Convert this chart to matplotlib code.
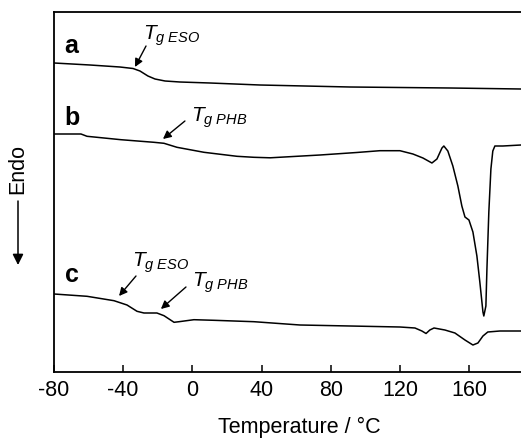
import matplotlib
matplotlib.use("Agg")
import matplotlib.pyplot as plt

plt.rcParams['font.family'] = ['Liberation Sans', 'DejaVu Sans']
plt.rcParams['mathtext.fontset'] = 'custom'
plt.rcParams['mathtext.it'] = 'Liberation Sans:italic'
plt.rcParams['mathtext.rm'] = 'Liberation Sans'

# --- Data (temperature in °C, heat flow in arbitrary offset units, endo down) ---
temp_a = [-80, -59.2, -41.9, -34.3, -30.3, -25.7, -21.6, -15.8, -7.2, 10.2, 39, 91, 149, 190]
heat_a = [64, 66, 68, 69.5, 72, 77, 80, 82, 83, 84, 86, 88, 89, 90]

temp_b = [-80, -64.4, -60.9, -41.3, -22.2, -16.4, -8.9, 6.7, 25.8, 35.6, 45, 73.8, 95,
          108.4, 120, 127.5, 133.3, 138.5, 141.4, 144.3, 145.4, 147.7, 150.6, 153.5,
          155.8, 157.6, 159.9, 162.2, 164.5, 166.2, 168, 168.5, 169.7, 170.3, 171.4,
          172.6, 173.7, 174.9, 179.5, 190]
heat_b = [135, 135, 137.3, 140.7, 143.3, 144.3, 148.3, 153.3, 157.3, 158.3, 158.8, 156, 153.5,
          151.7, 151.7, 155, 159, 164, 160, 149, 147, 152, 167, 187,
          207, 218, 221, 233, 257, 283, 313, 317, 307, 270, 213,
          170, 152, 147, 147, 146]

temp_c = [-80, -60.9, -45.3, -37.8, -32, -28, -20.5, -16.4, -10.6, -7.7, 0.9, 12.5, 35.6,
          62.2, 120, 128.7, 132.7, 135.1, 137.3, 139.7, 146, 151.8, 157.6, 162.2, 165.1,
          168, 170.8, 177.8, 190]
heat_c = [295, 297.3, 301.7, 306, 312.3, 314, 314, 316.7, 323.3, 322.7, 320.7, 321.3, 322.7,
          326, 328, 329, 332, 334.5, 331, 329, 331, 334, 341, 346, 344,
          337, 333, 332, 332]

xticks = [-80, -40, 0, 40, 80, 120, 160]

fig = plt.figure(figsize=(5.21, 4.39), dpi=100)
ax = fig.add_axes([54/521, 1 - 373/439, 1 - 54/521, (373 - 13)/439])

for t, h in [(temp_a, heat_a), (temp_b, heat_b), (temp_c, heat_c)]:
    ax.plot(t, [-v for v in h], color='black', lw=1.1, solid_joinstyle='round')

ax.set_xlim(-80, 190)
ax.set_ylim(-373, -13)
ax.set_xticks(xticks)
ax.set_xticklabels([str(v) for v in xticks])
ax.set_yticks([])
ax.tick_params(axis='x', direction='in', length=5, width=1.1, labelsize=15.5, pad=5)
for s in ['left', 'bottom', 'top']:
    ax.spines[s].set_linewidth(1.3)
ax.spines['right'].set_visible(False)

ax.set_xlabel('Temperature / °C', fontsize=15.5)
ax.xaxis.set_label_coords((299 - 54) / 467, -0.122)

# curve letters
for lab, y in [('a', 53), ('b', 125), ('c', 282)]:
    ax.text(-73.8, -y, lab, fontsize=18, fontweight='bold', ha='left', va='baseline')

arrow = dict(arrowstyle='-|>', color='black', lw=1.0, mutation_scale=12,
             shrinkA=0, shrinkB=0)
# Tg annotations: (label, text x, text baseline y, arrow tail, arrow tip)
ann = [
    (r'$T_{g\ ESO}$', -28.6, 40, (-26.8, 47), (-33.2, 68)),
    (r'$T_{g\ PHB}$', -0.8, 122, (-4.3, 122), (-17, 140)),
    (r'$T_{g\ ESO}$', -34.9, 267, (-32.6, 277), (-42.4, 297)),
    (r'$T_{g\ PHB}$', -0.2, 287, (-3.7, 288), (-18.2, 310)),
]
for txt, tx, ty, tail, tip in ann:
    ax.text(tx, -ty, txt, fontsize=15, ha='left', va='baseline')
    ax.annotate('', xy=(tip[0], -tip[1]), xytext=(tail[0], -tail[1]), arrowprops=arrow)

# Endo label with downward arrow
fig.text(18/521, 1 - 169/439, 'Endo', rotation=90, fontsize=15.5, ha='center', va='center')
fig.patches.append(matplotlib.patches.FancyArrowPatch(
    (18/521, 1 - 202/439), (18/521, 1 - 266/439), transform=fig.transFigure,
    arrowstyle='-|>', mutation_scale=16, color='black', lw=1.1, shrinkA=0, shrinkB=0))

fig.savefig('out.png', dpi=100)
